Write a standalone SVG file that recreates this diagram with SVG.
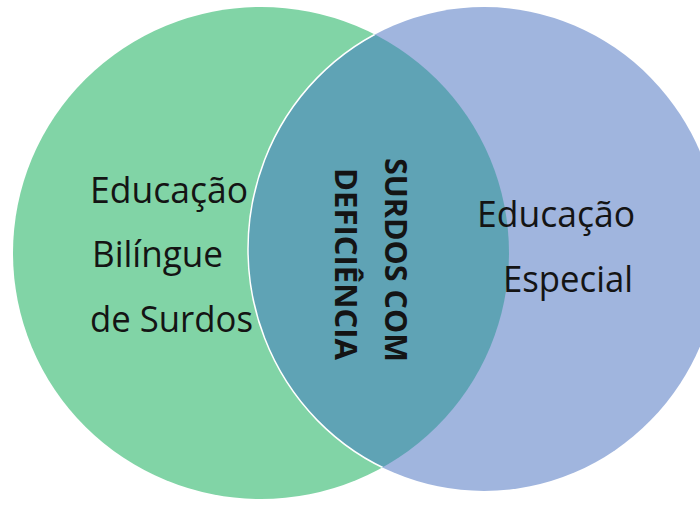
<svg xmlns="http://www.w3.org/2000/svg" width="700" height="505" viewBox="0 0 700 505">
  <style>
    .lbl { font-family: "Open Sans", "Noto Sans", "Liberation Sans", sans-serif; font-size: 36px; fill: #141414; }
    .mid { font-family: "Open Sans", "Noto Sans", "Liberation Sans", sans-serif; font-size: 31px; font-weight: bold; fill: #141414; }
  </style>
  <defs>
    <clipPath id="clipLeft">
      <ellipse cx="261" cy="253" rx="248" ry="246"/>
    </clipPath>
  </defs>
  <rect width="700" height="505" fill="#ffffff"/>
  <g id="educacao-bilingue">
    <ellipse cx="261" cy="253" rx="248" ry="246" fill="#81D4A6"/>
  </g>
  <g id="educacao-especial">
    <ellipse cx="484" cy="249" rx="236" ry="242" fill="#A0B5DE"/>
  </g>
  <g id="surdos-com-deficiencia">
    <ellipse cx="484" cy="249" rx="236" ry="242" fill="#5FA3B5" clip-path="url(#clipLeft)"/>
    <ellipse cx="484" cy="249" rx="236" ry="242" fill="none" stroke="#ffffff" stroke-width="1.5" clip-path="url(#clipLeft)"/>
  </g>
  <g id="labels">
    <text class="lbl" x="90" y="203" textLength="158" lengthAdjust="spacingAndGlyphs">Educação</text>
    <text class="lbl" x="92" y="267" textLength="131" lengthAdjust="spacingAndGlyphs">Bilíngue</text>
    <text class="lbl" x="90" y="332" textLength="163" lengthAdjust="spacingAndGlyphs">de Surdos</text>
    <text class="lbl" x="477" y="227" textLength="158" lengthAdjust="spacingAndGlyphs">Educação</text>
    <text class="lbl" x="503" y="292" textLength="130" lengthAdjust="spacingAndGlyphs">Especial</text>
    <text class="mid" transform="translate(385,158) rotate(90)" textLength="204" lengthAdjust="spacingAndGlyphs">SURDOS COM</text>
    <text class="mid" transform="translate(335,168) rotate(90)" textLength="192" lengthAdjust="spacingAndGlyphs">DEFICIÊNCIA</text>
  </g>
</svg>
